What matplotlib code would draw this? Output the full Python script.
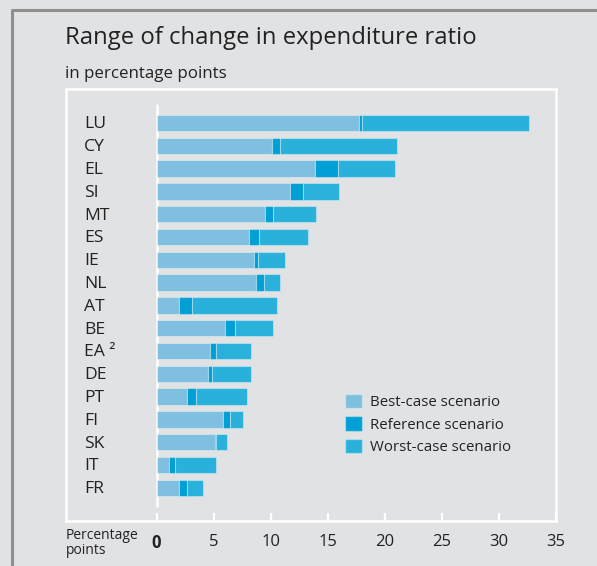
import matplotlib
matplotlib.use("Agg")
import matplotlib.pyplot as plt
from matplotlib.lines import Line2D
from matplotlib.patches import Patch

countries = ["LU", "CY", "EL", "SI", "MT", "ES", "IE", "NL", "AT", "BE",
             "EA ²", "DE", "PT", "FI", "SK", "IT", "FR"]
# change in expenditure ratio (percentage points) under each scenario
best_case = [17.7, 10.1, 13.9, 11.7, 9.5, 8.1, 8.5, 8.7, 2.0, 6.0,
             4.7, 4.5, 2.7, 5.8, 5.1, 1.1, 2.0]
reference = [18.0, 10.8, 15.9, 12.8, 10.2, 9.0, 8.9, 9.4, 3.1, 6.9,
             5.2, 4.9, 3.5, 6.4, 5.2, 1.6, 2.7]
worst_case = [32.6, 21.1, 20.9, 16.0, 14.0, 13.3, 11.3, 10.8, 10.6, 10.2,
              8.3, 8.3, 7.9, 7.6, 6.2, 5.2, 4.1]
xticks = [0, 5, 10, 15, 20, 25, 30, 35]

BG = "#e1e2e4"
C_BEST = "#7fc0e0"
C_REF = "#009fd6"
C_WORST = "#29b1dc"
EDGE = (1, 1, 1, 0.35)

plt.rcParams["font.family"] = ["Open Sans", "DejaVu Sans"]
W, H = 597, 566
fig = plt.figure(figsize=(W / 100, H / 100), dpi=100, facecolor=BG)

def fx(px):
    return px / W

def fy(py):
    return 1 - py / H

# outer frame border (left and top)
fig.add_artist(Line2D([fx(12), fx(12), 1], [0, fy(10), fy(10)],
                      color="#8f8f8f", lw=2.2, transform=fig.transFigure))

fig.text(fx(65), fy(38), "Range of change in expenditure ratio",
         fontsize=17.2, color="#222222", va="center", ha="left")
fig.text(fx(65), fy(74), "in percentage points",
         fontsize=12.2, color="#222222", va="center", ha="left")

ax = fig.add_axes([fx(65.5), fy(521), fx(556) - fx(65.5), fy(89) - fy(521)])
ax.set_facecolor(BG)

n = len(countries)
ys = list(range(n))
ref_w = [r - b for r, b in zip(reference, best_case)]
worst_w = [w - r for w, r in zip(worst_case, reference)]
bh = 0.72
ax.barh(ys, best_case, height=bh, color=C_BEST, edgecolor=EDGE, lw=0.8, zorder=3)
ax.barh(ys, ref_w, left=best_case, height=bh, color=C_REF, edgecolor=EDGE, lw=0.8, zorder=3)
ax.barh(ys, worst_w, left=reference, height=bh, color=C_WORST, edgecolor=EDGE, lw=0.8, zorder=3)

x0 = -(156.5 - 65.5) / 11.414
ax.set_xlim(x0, 35)
ax.set_ylim((521 - 123) / 22.8, (89 - 123) / 22.8)

for y, c in zip(ys, countries):
    ax.text(x0 + (84 - 65.5) / 11.414, y + 0.06, c, fontsize=12.6, color="#222222",
            va="center", ha="left")

# zero line
ax.plot([0, 0], [(104 - 123) / 22.8, (507 - 123) / 22.8], color="white",
        lw=1.8, zorder=2, solid_capstyle="butt")

for s in ax.spines.values():
    s.set_color("white")
    s.set_linewidth(1.8)

ax.set_yticks([])
ax.set_xticks(xticks)
ax.set_xticklabels([str(t) for t in xticks])
ax.tick_params(axis="x", direction="in", length=6, width=1.6, color="white",
               labelsize=12, labelcolor="#222222", pad=9)
ax.get_xticklabels()[0].set_fontweight("bold")

fig.text(fx(66), fy(543), "Percentage\npoints", fontsize=10, color="#222222",
         va="center", ha="left", linespacing=0.95)

handles = [Patch(facecolor=C_BEST, edgecolor=EDGE, label="Best-case scenario"),
           Patch(facecolor=C_REF, edgecolor=EDGE, label="Reference scenario"),
           Patch(facecolor=C_WORST, edgecolor=EDGE, label="Worst-case scenario")]
fig.legend(handles=handles, loc="upper left",
           bbox_to_anchor=(fx(339), fy(388)), frameon=False, fontsize=10.8,
           handlelength=1.1, handleheight=1.1, handletextpad=0.55,
           labelspacing=0.4, borderaxespad=0, labelcolor="#222222")

fig.savefig("out.png", dpi=100, facecolor=BG)
